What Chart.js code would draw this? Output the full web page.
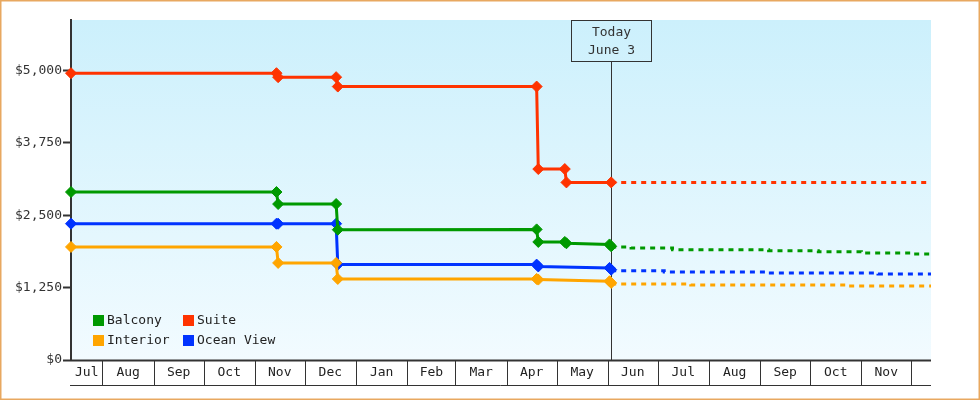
<!DOCTYPE html>
<html>
<head>
<meta charset="utf-8">
<script src="https://cdn.jsdelivr.net/npm/chart.js@4.4.1/dist/chart.umd.min.js"></script>
<style>
  html, body { margin: 0; padding: 0; background: #fff; }
  #caja { width: 980px; height: 400px; }
</style>
</head>
<body>
<div id="caja"><canvas id="precios"></canvas></div>
<script>
// Fechas y precios
const suiteFechas = ["2023-07-13", "2023-11-14", "2023-11-15", "2023-12-20", "2023-12-21", "2024-04-19", "2024-04-20", "2024-05-06", "2024-05-07", "2024-06-03"];
const suitePrecios = [4952, 4952, 4883, 4883, 4721, 4721, 3297, 3297, 3066, 3066];

const balconyFechas = ["2023-07-13", "2023-11-14", "2023-11-15", "2023-12-20", "2023-12-21", "2024-04-19", "2024-04-20", "2024-05-06", "2024-05-07", "2024-06-02", "2024-06-03"];
const balconyPrecios = [2900, 2900, 2693, 2693, 2250, 2255, 2038, 2038, 2015, 1995, 1962];

const oceanFechas = ["2023-07-13", "2023-11-14", "2023-11-15", "2023-12-20", "2023-12-21", "2024-04-19", "2024-04-20", "2024-06-02", "2024-06-03"];
const oceanPrecios = [2353, 2353, 2353, 2353, 1647, 1647, 1615, 1590, 1560];

const interiorFechas = ["2023-07-13", "2023-11-14", "2023-11-15", "2023-12-20", "2023-12-21", "2024-04-19", "2024-04-20", "2024-06-02", "2024-06-03"];
const interiorPrecios = [1952, 1952, 1676, 1676, 1400, 1400, 1388, 1360, 1331];

// Proyección (línea punteada)
const suiteProyFechas = ["2024-06-03", "2024-12-13"];
const suiteProyPrecios = [3066, 3066];
const balconyProyFechas = ["2024-06-03", "2024-06-15", "2024-07-10", "2024-09-06", "2024-10-06", "2024-11-01", "2024-12-01", "2024-12-13"];
const balconyProyPrecios = [1952, 1934, 1905, 1888, 1871, 1848, 1831, 1831];
const oceanProyFechas = ["2024-06-03", "2024-07-05", "2024-09-06", "2024-11-11", "2024-12-13"];
const oceanProyPrecios = [1543, 1521, 1503, 1486, 1486];
const interiorProyFechas = ["2024-06-03", "2024-07-21", "2024-10-24", "2024-12-13"];
const interiorProyPrecios = [1314, 1297, 1279, 1279];

const mesesInicio = ["2023-07-01", "2023-08-01", "2023-09-01", "2023-10-01", "2023-11-01", "2023-12-01", "2024-01-01", "2024-02-01", "2024-03-01", "2024-04-01", "2024-05-01", "2024-06-01", "2024-07-01", "2024-08-01", "2024-09-01", "2024-10-01", "2024-11-01", "2024-12-01"];
const mesesEtiquetas = ["Jul", "Aug", "Sep", "Oct", "Nov", "Dec", "Jan", "Feb", "Mar", "Apr", "May", "Jun", "Jul", "Aug", "Sep", "Oct", "Nov", "Dec"];

const ticksY = [0, 1250, 2500, 3750, 5000];
const fechaInicio = "2023-07-13";
const fechaFin = "2024-12-13";
const hoyFecha = "2024-06-03";
const hoyTexto = ["Today", "June 3"];

const FUENTE = "'DejaVu Sans Mono', 'Liberation Mono', monospace";

const aDia = (s) => Date.UTC(+s.slice(0, 4), +s.slice(5, 7) - 1, +s.slice(8, 10)) / 864e5;
const puntos = (fechas, valores) => fechas.map((f, i) => ({ x: aDia(f), y: valores[i] }));

const serie = (label, color, fechas, valores) => ({
  label,
  data: puntos(fechas, valores),
  borderColor: color,
  backgroundColor: color,
  borderWidth: 3,
  pointStyle: "rectRot",
  pointRadius: 5.5,
  pointBorderWidth: 1,
  tension: 0,
  clip: false,
});

const proyeccion = (label, color, fechas, valores) => ({
  label,
  data: puntos(fechas, valores),
  borderColor: color,
  borderWidth: 3,
  borderDash: [5, 5],
  pointRadius: 0,
  stepped: "before",
  proyeccion: true,
});

const plugin_fondo = {
  id: "fondo",
  beforeDraw: (chart) => {
    const { ctx, chartArea, width, height } = chart;
    ctx.save();
    ctx.fillStyle = "#ffffff";
    ctx.fillRect(0, 0, width, height);
    const g = ctx.createLinearGradient(0, chartArea.top, 0, chartArea.bottom);
    g.addColorStop(0, "#ccf0fc");
    g.addColorStop(1, "#f2fbff");
    ctx.fillStyle = g;
    ctx.fillRect(chartArea.left, chartArea.top, chartArea.right - chartArea.left, chartArea.bottom - chartArea.top);
    ctx.strokeStyle = "#e8a860";
    ctx.lineWidth = 1.5;
    ctx.strokeRect(0.75, 0.75, width - 1.5, height - 1.5);
    ctx.restore();
  },
};

const plugin_hoy = {
  id: "hoy",
  beforeDatasetsDraw: (chart) => {
    const { ctx, chartArea, scales } = chart;
    const x = Math.round(scales.x.getPixelForValue(aDia(hoyFecha))) + 0.5;
    const ancho = 80, alto = 41;
    const top = chartArea.top;
    ctx.save();
    ctx.strokeStyle = "#333";
    ctx.lineWidth = 1;
    ctx.strokeRect(x - ancho / 2, top + 0.5, ancho, alto);
    ctx.beginPath();
    ctx.moveTo(x, top + alto + 0.5);
    ctx.lineTo(x, chartArea.bottom);
    ctx.stroke();
    ctx.fillStyle = "#333";
    ctx.font = "13px " + FUENTE;
    ctx.textAlign = "center";
    ctx.textBaseline = "middle";
    ctx.fillText(hoyTexto[0], x, top + 13);
    ctx.fillText(hoyTexto[1], x, top + 31);
    ctx.restore();
  },
};

const plugin_meses = {
  id: "meses",
  afterDraw: (chart) => {
    const { ctx, chartArea, scales } = chart;
    const sx = scales.x;
    const y0 = chartArea.bottom;
    const y1 = chartArea.bottom + 25;
    ctx.save();
    ctx.strokeStyle = "#333";
    ctx.lineWidth = 2;
    ctx.beginPath();
    ctx.moveTo(chartArea.left - 1, y0 + 0.5);
    ctx.lineTo(chartArea.right, y0 + 0.5);
    ctx.stroke();
    ctx.lineWidth = 1;
    ctx.beginPath();
    ctx.moveTo(chartArea.left - 1, y1 + 0.5);
    ctx.lineTo(chartArea.right, y1 + 0.5);
    ctx.stroke();
    ctx.font = "13px " + FUENTE;
    ctx.fillStyle = "#222";
    ctx.textAlign = "center";
    ctx.textBaseline = "middle";
    mesesInicio.forEach((m, i) => {
      const d0 = Math.max(aDia(m), sx.min);
      const d1 = i + 1 < mesesInicio.length ? Math.min(aDia(mesesInicio[i + 1]), sx.max) : sx.max;
      if (d1 <= d0) return;
      const p0 = sx.getPixelForValue(d0);
      const p1 = sx.getPixelForValue(d1);
      if (aDia(m) > sx.min) {
        const px = Math.round(p0) + 0.5;
        ctx.beginPath();
        ctx.moveTo(px, y0);
        ctx.lineTo(px, y1);
        ctx.stroke();
      }
      if (p1 - p0 > 25) ctx.fillText(mesesEtiquetas[i], (p0 + p1) / 2, y0 + 13);
    });
    ctx.restore();
  },
};

const plugin_leyenda = {
  id: "leyenda",
  afterDatasetsDraw: (chart) => {
    const { ctx, chartArea } = chart;
    const orden = chart.data.datasets.filter((d) => !d.proyeccion);
    ctx.save();
    ctx.font = "13px " + FUENTE;
    ctx.textBaseline = "middle";
    ctx.textAlign = "left";
    orden.forEach((d, i) => {
      const col = i % 2;
      const fila = Math.floor(i / 2);
      const x = chartArea.left + 22 + col * 90;
      const y = chartArea.bottom - 40 + fila * 20;
      ctx.fillStyle = d.borderColor;
      ctx.fillRect(x, y - 5, 11, 11);
      ctx.fillStyle = "#222";
      ctx.fillText(d.label, x + 14, y + 1);
    });
    ctx.restore();
  },
};

const ctx = document.getElementById("precios").getContext("2d");
const chart_precios = new Chart(ctx, {
  type: "line",
  data: {
    datasets: [
      serie("Balcony", "#009900", balconyFechas, balconyPrecios),
      serie("Suite", "#ff3300", suiteFechas, suitePrecios),
      serie("Interior", "#ffa500", interiorFechas, interiorPrecios),
      serie("Ocean View", "#0033ff", oceanFechas, oceanPrecios),
      proyeccion("Balcony", "#009900", balconyProyFechas, balconyProyPrecios),
      proyeccion("Suite", "#ff3300", suiteProyFechas, suiteProyPrecios),
      proyeccion("Interior", "#ffa500", interiorProyFechas, interiorProyPrecios),
      proyeccion("Ocean View", "#0033ff", oceanProyFechas, oceanProyPrecios),
    ],
  },
  options: {
    responsive: true,
    maintainAspectRatio: false,
    animation: false,
    layout: { padding: { top: 20, right: 49, bottom: 40, left: 0 } },
    plugins: {
      legend: { display: false },
      tooltip: { enabled: false },
    },
    scales: {
      x: {
        type: "linear",
        display: false,
        min: aDia(fechaInicio),
        max: aDia(fechaFin),
      },
      y: {
        min: 0,
        max: 5870,
        afterFit: (scale) => { scale.width = 71; },
        afterBuildTicks: (scale) => { scale.ticks = ticksY.map((v) => ({ value: v })); },
        border: { color: "#333", width: 2 },
        grid: { drawOnChartArea: false, tickLength: 8, tickWidth: 2, tickColor: "#333" },
        ticks: {
          padding: 1,
          color: "#333",
          font: { family: FUENTE, size: 13 },
          callback: (v) => "$" + v.toLocaleString("en-US"),
        },
      },
    },
  },
  plugins: [plugin_fondo, plugin_hoy, plugin_meses, plugin_leyenda],
});
</script>
</body>
</html>
